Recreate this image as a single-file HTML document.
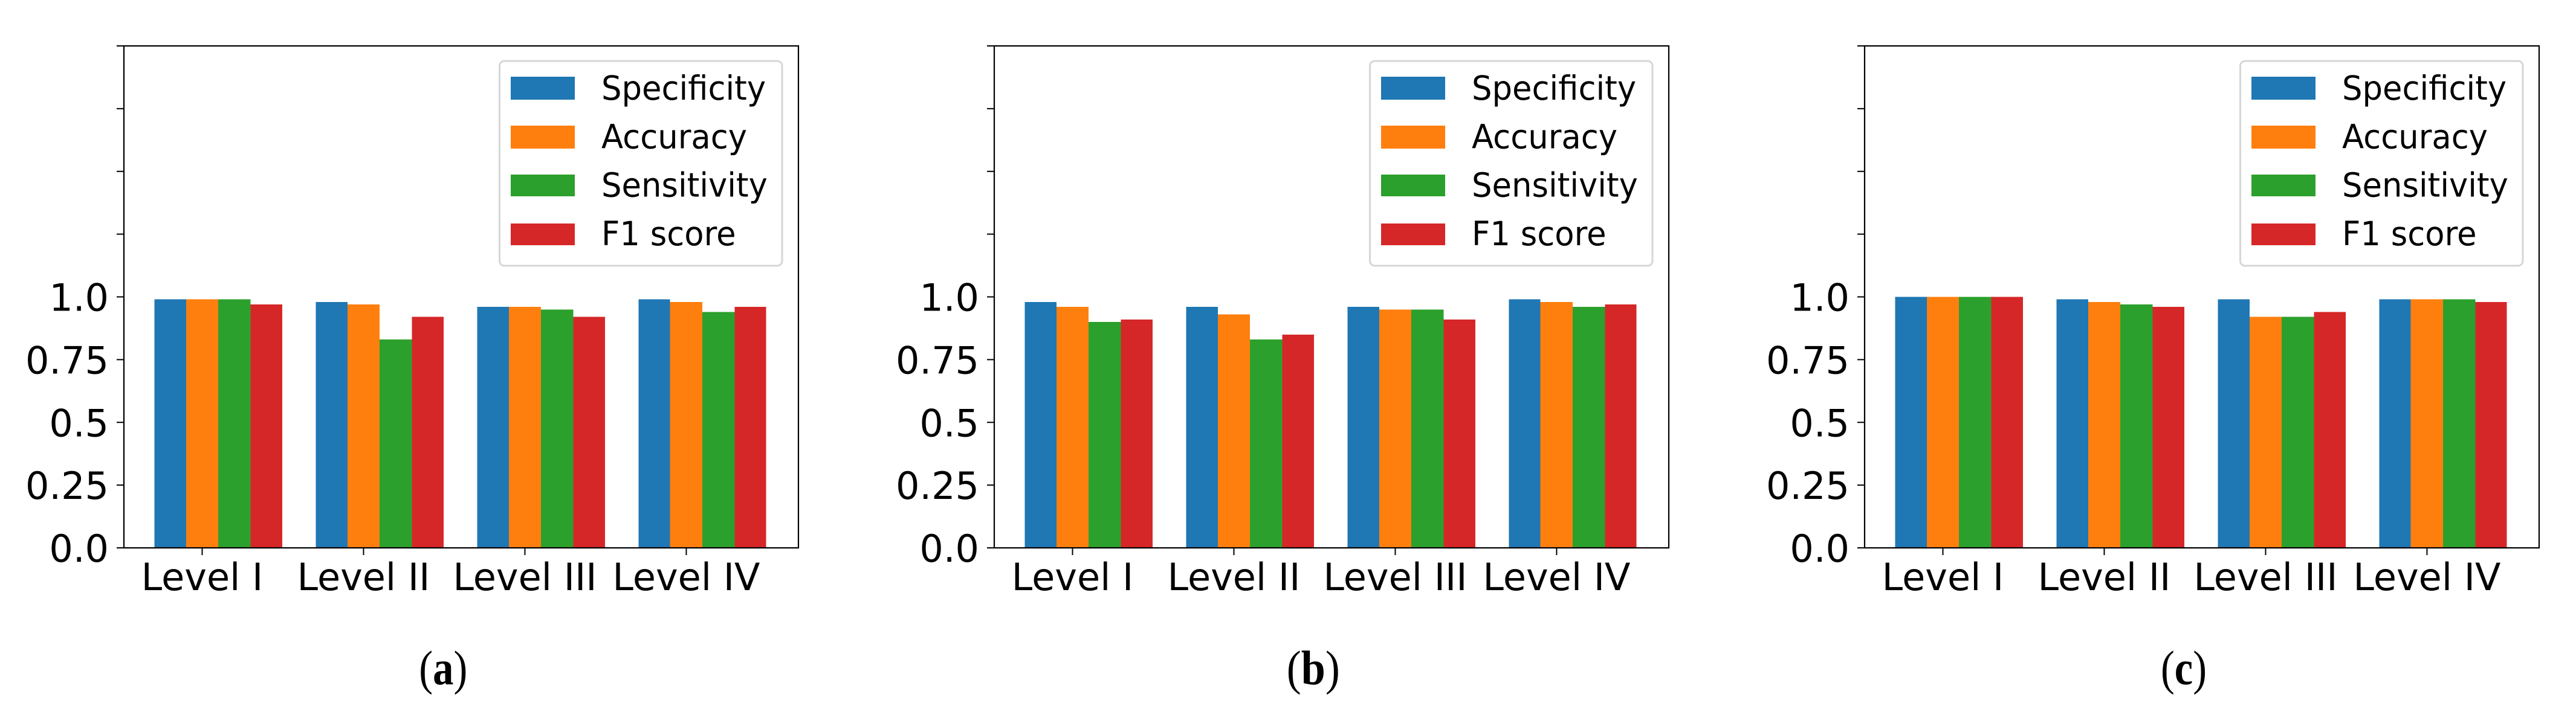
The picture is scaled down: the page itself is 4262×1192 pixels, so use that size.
<!DOCTYPE html>
<html lang="en">
<head>
<meta charset="utf-8">
<title>Metrics by level</title>
<style>
  html, body { margin: 0; padding: 0; background: #ffffff; }
  #figure { display: block; width: 4262px; height: 1192px; }
  .sans { font-family: "DejaVu Sans", "Liberation Sans", sans-serif; fill: #000; }
  .serif { font-family: "Liberation Serif", serif; fill: #000; }
</style>
</head>
<body>
<svg id="figure" xmlns="http://www.w3.org/2000/svg" width="4262" height="1192" viewBox="0 0 4262 1192"></svg>
<script>
// Chart data
const categories = ['Level I', 'Level II', 'Level III', 'Level IV'];
const seriesNames = ['Specificity', 'Accuracy', 'Sensitivity', 'F1 score'];
const yTickValues = [0, 0.25, 0.5, 0.75, 1, 1.25, 1.5, 1.75, 2];
const yTickLabels = ['0.0', '0.25', '0.5', '0.75', '1.0', '', '', '', ''];

const aSpecificity = [0.99, 0.98, 0.96, 0.99];
const aAccuracy    = [0.99, 0.97, 0.96, 0.98];
const aSensitivity = [0.99, 0.83, 0.95, 0.94];
const aF1          = [0.97, 0.92, 0.92, 0.96];

const bSpecificity = [0.98, 0.96, 0.96, 0.99];
const bAccuracy    = [0.96, 0.93, 0.95, 0.98];
const bSensitivity = [0.90, 0.83, 0.95, 0.96];
const bF1          = [0.91, 0.85, 0.91, 0.97];

const cSpecificity = [1.00, 0.99, 0.99, 0.99];
const cAccuracy    = [1.00, 0.98, 0.92, 0.99];
const cSensitivity = [1.00, 0.97, 0.92, 0.99];
const cF1          = [1.00, 0.96, 0.94, 0.98];

// Layout
const seriesColors = ['#1f77b4', '#ff7f0e', '#2ca02c', '#d62728'];
const axisWidth = 1116;
const axisTop = 76;
const axisBottom = 907;
const yMax = 2;
const xMin = -0.585;
const xMax = 3.595;
const barWidth = 0.2;
const outerTrim = 1.2;
const tickFont = 62;
const legendFont = 52.8;
const legendStretch = 1.04;
const NS = 'http://www.w3.org/2000/svg';
const root = document.getElementById('figure');

const panels = [
  { id: 'a', left: 205,  captionX: 733.3, captionW: 80, series: [aSpecificity, aAccuracy, aSensitivity, aF1] },
  { id: 'b', left: 1645, captionX: 2172.8, captionW: 88, series: [bSpecificity, bAccuracy, bSensitivity, bF1] },
  { id: 'c', left: 3085, captionX: 3613, captionW: 76, series: [cSpecificity, cAccuracy, cSensitivity, cF1] }
];

function make(tag, parent) {
  const el = document.createElementNS(NS, tag);
  parent.appendChild(el);
  return el;
}
function setLine(el, x1, y1, x2, y2, w) {
  el.setAttribute('x1', x1);
  el.setAttribute('y1', y1);
  el.setAttribute('x2', x2);
  el.setAttribute('y2', y2);
  el.setAttribute('stroke', '#000');
  el.setAttribute('stroke-width', w);
}
function setText(el, str, x, y, size, anchor) {
  el.textContent = str;
  el.setAttribute('x', x);
  el.setAttribute('y', y);
  el.setAttribute('font-size', size);
  el.setAttribute('text-anchor', anchor);
  el.setAttribute('class', 'sans');
}

panels.forEach(function (panel) {
  const xScale = function (v) { return panel.left + (v - xMin) / (xMax - xMin) * axisWidth; };
  const yScale = function (v) { return axisBottom - v / yMax * (axisBottom - axisTop); };

  const g = make('g', root);
  
  

  // Bars
  panel.series.forEach(function (values, s) {
    values.forEach(function (value, c) {
      const bar = make('rect', g);
      
      
      const left = xScale(c - 0.4 + s * barWidth) + (s === 0 ? outerTrim : 0);
      const right = xScale(c - 0.4 + (s + 1) * barWidth) - (s === 3 ? outerTrim : 0);
      bar.setAttribute('x', left);
      bar.setAttribute('y', yScale(value));
      bar.setAttribute('width', right - left);
      bar.setAttribute('height', axisBottom - yScale(value));
      bar.setAttribute('fill', seriesColors[s]);
      bar.setAttribute('shape-rendering', 'crispEdges');
    });
  });

  // Y ticks and labels
  yTickValues.forEach(function (value, i) {
    const tick = make('line', g);
    
    
    setLine(tick, panel.left - 12, yScale(value), panel.left, yScale(value), 2);
    if (yTickLabels[i]) {
      const label = make('text', g);
      
      
      setText(label, yTickLabels[i], panel.left - 25, yScale(value) + 23, tickFont, 'end');
    }
  });

  // X ticks and labels (ticks sit on the second bar of each group)
  categories.forEach(function (name, c) {
    const tick = make('line', g);
    
    
    setLine(tick, xScale(c - 0.1), axisBottom, xScale(c - 0.1), axisBottom + 12, 2);
    const label = make('text', g);
    
    
    setText(label, name, xScale(c - 0.1), 977, tickFont, 'middle');
  });

  // Spines
  const frame = make('rect', g);
  
  
  frame.setAttribute('x', panel.left);
  frame.setAttribute('y', axisTop);
  frame.setAttribute('width', axisWidth);
  frame.setAttribute('height', axisBottom - axisTop);
  frame.setAttribute('fill', 'none');
  frame.setAttribute('stroke', '#000');
  frame.setAttribute('stroke-width', 2.2);

  // Legend
  const legend = make('g', g);
  
  
  const box = make('rect', legend);
  
  
  box.setAttribute('x', panel.left + 621.5);
  box.setAttribute('y', 101);
  box.setAttribute('width', 467.5);
  box.setAttribute('height', 339);
  box.setAttribute('rx', 8);
  box.setAttribute('fill', '#fff');
  box.setAttribute('stroke', '#d6d6d6');
  box.setAttribute('stroke-width', 3);
  seriesNames.forEach(function (name, s) {
    const rowTop = 127 + s * 81;
    const swatch = make('rect', legend);
    
    
    swatch.setAttribute('x', panel.left + 640);
    swatch.setAttribute('y', rowTop);
    swatch.setAttribute('width', 106);
    swatch.setAttribute('height', s < 2 ? 38 : 36);
    swatch.setAttribute('fill', seriesColors[s]);
    const entry = make('text', legend);
    
    
    setText(entry, name, 0, 0, legendFont, 'start');
    entry.setAttribute('transform', 'translate(' + (panel.left + 790) + ',' + (165 + s * 80.33) + ') scale(1,' + legendStretch + ')');
  });

  // Caption
  const caption = make('text', g);
  
  
  caption.setAttribute('x', panel.captionX - panel.captionW / 2);
  caption.setAttribute('y', 1133);
  caption.setAttribute('font-size', 80);
  caption.setAttribute('textLength', panel.captionW);
  caption.setAttribute('lengthAdjust', 'spacingAndGlyphs');
  caption.setAttribute('class', 'serif');
  caption.appendChild(document.createTextNode('('));
  const letter = make('tspan', caption);
  letter.setAttribute('font-weight', 'bold');
  letter.textContent = panel.id;
  caption.appendChild(document.createTextNode(')'));
});
</script>
</body>
</html>
